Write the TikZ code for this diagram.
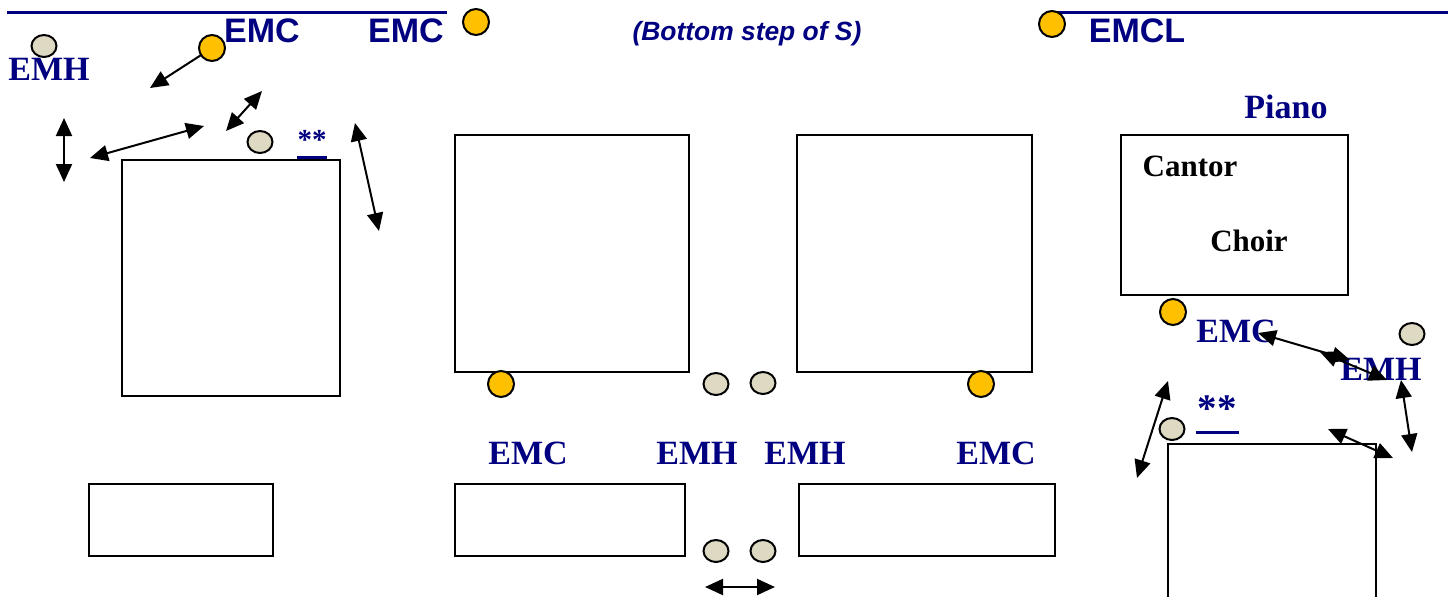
\documentclass[tikz,border=0pt]{standalone}
\usepackage{fontspec}
\setmainfont{Liberation Serif}
\setsansfont{Liberation Sans}
\usetikzlibrary{arrows.meta,shapes.geometric}
\definecolor{planblue}{RGB}{0,0,128}
\definecolor{emcfill}{RGB}{255,192,0}
\definecolor{emhfill}{RGB}{221,217,195}

\begin{document}
\begin{tikzpicture}[x=0.5pt, y=-0.5pt, line width=1pt,
      every node/.append style={inner sep=0pt, outer sep=0pt},
      emc/.style={circle, draw, fill=emcfill, minimum size=13pt},
      emh/.style={ellipse, draw, fill=emhfill, minimum width=12.5pt, minimum height=11pt},
      room/.style={draw, line width=0.9pt},
      both/.style={{Triangle[length=9pt,width=8pt]}-{Triangle[length=9pt,width=8pt]}},
      one/.style={-{Triangle[length=9pt,width=8pt]}},
      lbl/.style={font=\fontsize{17}{20}\selectfont\bfseries\sffamily, color=planblue},
      slbl/.style={font=\fontsize{17}{20}\selectfont\bfseries\rmfamily, color=planblue},
      words/.style={font=\fontsize{15.5}{18}\selectfont\bfseries\rmfamily, color=black}]
  \useasboundingbox (0,0) rectangle (1448,596);
  \clip (0,0) rectangle (1448,596);

  % top rule
  \draw[planblue, line width=1.5pt] (7,12) -- (447,12);
  \draw[planblue, line width=1.5pt] (1053,12) -- (1448,12);

  % rooms
  \draw[room] (122,160) rectangle (340,396);
  \draw[room] (455,135) rectangle (689,372);
  \draw[room] (797,135) rectangle (1032,372);
  \draw[room] (1121,135) rectangle (1348,295);
  \draw[room] (89,484) rectangle (273,556);
  \draw[room] (455,484) rectangle (685,556);
  \draw[room] (799,484) rectangle (1055,556);
  \draw[room] (1168,444) rectangle (1376,610);

  % stations
  \node[emh] (emhA) at (44,46) {};
  \node[emc] (emcA) at (212,48) {};
  \node[emc] (emcB) at (476,22) {};
  \node[emc] (emcC) at (1052,24) {};
  \node[emh] (emhB) at (260,142) {};
  \node[emc] (emcD) at (501,384) {};
  \node[emh] (emhC) at (716,384) {};
  \node[emh] (emhD) at (763,383) {};
  \node[emc] (emcE) at (981,384) {};
  \node[emc] (emcF) at (1173,312) {};
  \node[emh] (emhE) at (1412,334) {};
  \node[emh] (emhF) at (1172,429) {};
  \node[emh] (emhG) at (716,551) {};
  \node[emh] (emhH) at (763,551) {};

  % labels
  \node[slbl] (tEMHa) at (49,69) {EMH};
  \node[lbl] (tEMCa) at (262,31) {EMC};
  \node[lbl] (tEMCb) at (406,31) {EMC};
  \node[lbl, font=\fontsize{13.2}{16}\selectfont\bfseries\itshape\sffamily] (tStep) at (747,34) {(Bottom step of S)};
  \node[lbl] (tEMCL) at (1137,31) {EMCL};
  \node[slbl] (tPiano) at (1286,107) {Piano};
  \node[words] (tCantor) at (1190,166) {Cantor};
  \node[words] (tChoir) at (1249,241) {Choir};
  \node[slbl] (tEMCr) at (1236,331) {EMC};
  \node[slbl] (tEMHr) at (1381,369) {EMH};
  \node[slbl] (tEMCc) at (528,453) {EMC};
  \node[slbl] (tEMHc) at (697,453) {EMH};
  \node[slbl] (tEMHd) at (805,453) {EMH};
  \node[slbl] (tEMCd) at (996,453) {EMC};
  \node[slbl, font=\fontsize{14.5}{16}\selectfont\bfseries\rmfamily] (starL) at (312,140) {**};
  \draw[planblue, line width=1.5pt] (297,157) -- (327,157);
  \node[slbl, font=\fontsize{19.5}{22}\selectfont\bfseries\rmfamily] (starR) at (1217,409) {**};
  \draw[planblue, line width=1.5pt] (1196,432) -- (1239,432);

  % free ends of the moves
  \coordinate (a1) at (150,88);
  \coordinate (b1) at (64,118);  \coordinate (b2) at (64,182);
  \coordinate (c1) at (90,158);  \coordinate (c2) at (204,126);
  \coordinate (d1) at (226,131); \coordinate (d2) at (262,91);
  \coordinate (e1) at (355,123); \coordinate (e2) at (379,231);
  \coordinate (f1) at (705,587); \coordinate (f2) at (775,587);
  \coordinate (g1) at (1258,333); \coordinate (g2) at (1350,360);
  \coordinate (h1) at (1320,352); \coordinate (h2) at (1387,380);
  \coordinate (i1) at (1401,380); \coordinate (i2) at (1412,452);
  \coordinate (j1) at (1328,429); \coordinate (j2) at (1393,458);
  \coordinate (k1) at (1168,381); \coordinate (k2) at (1137,478);

  \draw[one] (emcA) -- (a1);
  \draw[both] (b1) -- (b2);
  \draw[both] (c1) -- (c2);
  \draw[both] (d1) -- (d2);
  \draw[both] (e1) -- (e2);
  \draw[both] (f1) -- (f2);
  \draw[both] (g1) -- (g2);
  \draw[both] (h1) -- (h2);
  \draw[both] (i1) -- (i2);
  \draw[both] (j1) -- (j2);
  \draw[both] (k1) -- (k2);
\end{tikzpicture}
\end{document}
